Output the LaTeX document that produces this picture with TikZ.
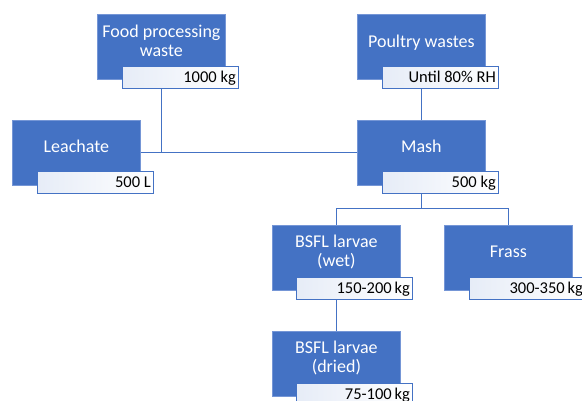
\documentclass[tikz,border=0pt]{standalone}
\usepackage{fontspec}
\setmainfont{Carlito}
\usetikzlibrary{calc}
\definecolor{mainblue}{HTML}{4472C4}
\definecolor{edgeblue}{HTML}{7596D6}
\definecolor{lblfill}{HTML}{E6ECF7}
\pgfdeclarelayer{bg}\pgfdeclarelayer{back}\pgfsetlayers{back,bg,main}
\begin{document}
\begin{tikzpicture}[x=1pt,y=-1pt,
  box/.style={fill=mainblue, draw=edgeblue, line width=0.8pt, minimum width=128pt, minimum height=65pt, inner sep=0pt, anchor=north west},
  lbl/.style={draw=mainblue, line width=1pt, left color=lblfill, right color=white, minimum width=116pt, minimum height=22pt, inner sep=0pt, anchor=north west},
  maintxt/.style={text=white, font=\fontsize{18}{20}\selectfont, inner sep=0pt, anchor=base},
  lbltxt/.style={text=black, font=\fontsize{16.5}{18}\selectfont, inner sep=0pt, anchor=base east},
  conn/.style={draw=mainblue, line width=1.1pt}]
\begin{pgfonlayer}{back}
\fill[white] (0,0) rectangle (582,401);
\end{pgfonlayer}
\useasboundingbox (0,0) rectangle (582,401);

% boxes
\node[box] (food) at (97,14) {};
\node[box] (poultry) at (357,14) {};
\node[box] (leach) at (12,120) {};
\node[box] (mash) at (357,120) {};
\node[box] (wet) at (272,225) {};
\node[box] (frass) at (444,225) {};
\node[box] (dried) at (272,331) {};

% labels
\node[lbl] (foodl) at (122,66) {};
\node[lbl] (poultryl) at (382,66) {};
\node[lbl] (leachl) at (37,171) {};
\node[lbl] (mashl) at (382,171) {};
\node[lbl] (wetl) at (296,277) {};
\node[lbl] (frassl) at (469,277) {};
\node[lbl] (driedl) at (296,383) {};

% main texts
\node[maintxt] (foodt1) at ($(food.north)+(0,24)$) {Food processing};
\node[maintxt] (foodt2) at ($(food.north)+(0,43)$) {waste};
\node[maintxt] (poultryt) at ($(poultry.north)+(0,34)$) {Poultry wastes};
\node[maintxt] (leacht) at ($(leach.north)+(0,33)$) {Leachate};
\node[maintxt] (masht) at ($(mash.north)+(0,33)$) {Mash};
\node[maintxt] (wett1) at ($(wet.north)+(0,23)$) {BSFL larvae};
\node[maintxt] (wett2) at ($(wet.north)+(0,42)$) {(wet)};
\node[maintxt] (frasst) at ($(frass.north)+(0,33)$) {Frass};
\node[maintxt] (driedt1) at ($(dried.north)+(0,23)$) {BSFL larvae};
\node[maintxt] (driedt2) at ($(dried.north)+(0,42)$) {(dried)};

% label texts
\node[lbltxt] (foodv) at ($(foodl.north east)+(-3,16.5)$) {1000 kg};
\node[lbltxt] (poultryv) at ($(poultryl.north east)+(-3,16.5)$) {Unt{}il 80\% RH};
\node[lbltxt] (leachv) at ($(leachl.north east)+(-3,16.5)$) {500 L};
\node[lbltxt] (mashv) at ($(mashl.north east)+(-3,16.5)$) {500 kg};
\node[lbltxt] (wetv) at ($(wetl.north east)+(-3,16.5)$) {150-200\,kg};
\node[lbltxt] (frassv) at ($(frassl.north east)+(-3,16.5)$) {300-350\,kg};
\node[lbltxt] (driedv) at ($(driedl.north east)+(-3,16.5)$) {75-100\,kg};

% connectors
\begin{pgfonlayer}{bg}
\draw[conn] (food.center) -- (food.center |- leach.center);
\draw[conn] (leach.center) -- (mash.center);
\draw[conn] (poultry.center) -- (mash.center);
\coordinate (j) at ($(mash.south)+(0,23)$);
\draw[conn] (mash.center) -- (j);
\draw[conn] (j) -| (wet.center);
\draw[conn] (j) -| (frass.center);
\draw[conn] (wet.center) -- (dried.center);
\end{pgfonlayer}
\end{tikzpicture}
\end{document}
